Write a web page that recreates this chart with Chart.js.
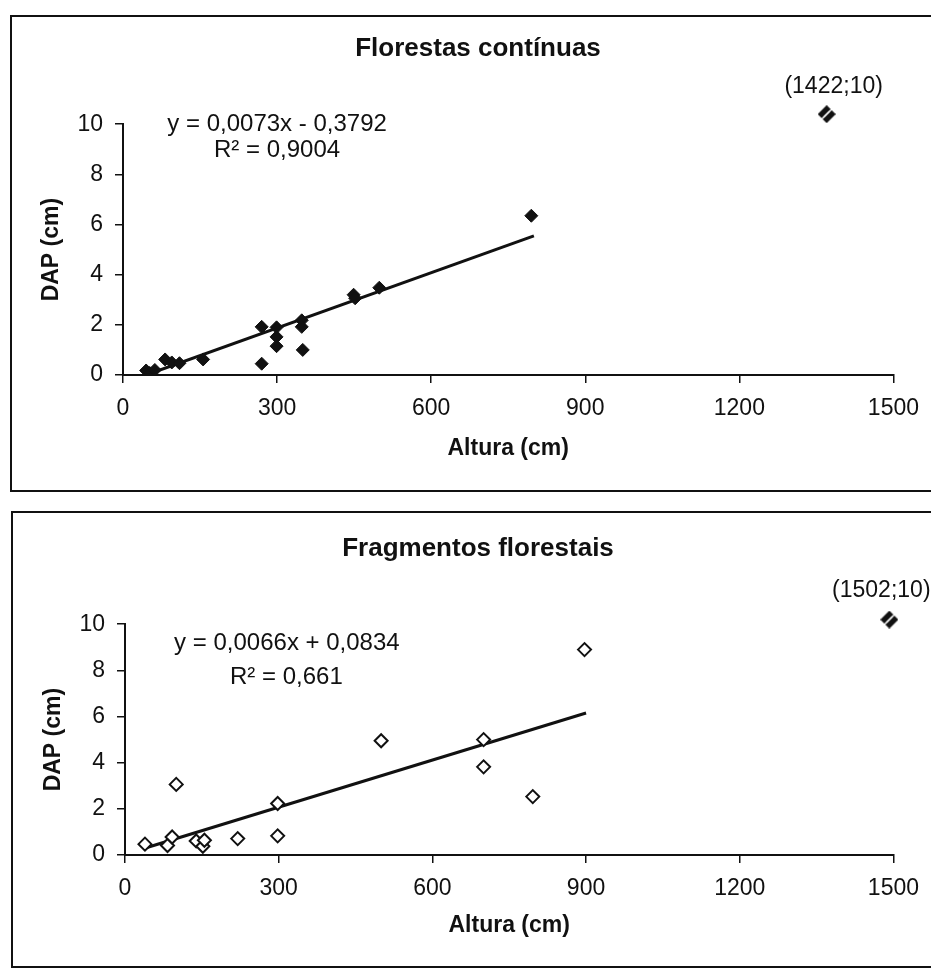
<!DOCTYPE html>
<html>
<head>
<meta charset="utf-8">
<script src="https://cdn.jsdelivr.net/npm/chart.js@4.4.1/dist/chart.umd.min.js"></script>
<style>
  html, body { margin: 0; padding: 0; background: #fff; overflow: hidden; }
  body { width: 931px; height: 970px; position: relative; }
  .frame { position: absolute; border: 2px solid #111; box-sizing: border-box; }
  .ct-box { position: absolute; left: 0; width: 931px; }
  .ct-box canvas { display: block; }
</style>
</head>
<body>
<div class="frame" style="left:10px;top:15px;width:940px;height:477px"></div>
<div class="frame" style="left:11px;top:511px;width:940px;height:457px"></div>
<div class="ct-box" style="top:0;height:495px"><canvas id="ct-chart" width="931" height="495"></canvas></div>
<div class="ct-box" style="top:500px;height:470px"><canvas id="ct-chart2" width="931" height="470"></canvas></div>

<script>
// Florestas contínuas
var contAltura = [45, 52, 62, 82, 95, 110, 156, 270, 270, 299, 299, 299, 348, 348, 350, 449, 452, 499, 795],
  contDap = [0.18, 0.08, 0.2, 0.62, 0.5, 0.47, 0.62, 1.92, 0.45, 1.9, 1.52, 1.15, 2.18, 1.92, 1.0, 3.2, 3.06, 3.48, 6.35],
  contTrendAltura = [45, 800],
  contTrendDap = [0.0, 5.55],
  contOutlierAltura = [1370],
  contOutlierDap = [10.4],
  contOutlierText = "(1422;10)",
  contEquation = ["y = 0,0073x - 0,3792", "R\u00b2 = 0,9004"];

// Fragmentos florestais
var fragAltura = [39, 83, 92, 100, 139, 152, 155, 220, 298, 298, 500, 700, 700, 796, 897],
  fragDap = [0.47, 0.41, 0.78, 3.06, 0.61, 0.38, 0.64, 0.71, 2.23, 0.83, 4.95, 5.0, 3.82, 2.53, 8.9],
  fragTrendAltura = [35, 900],
  fragTrendDap = [0.27, 6.15],
  fragOutlierAltura = [1492],
  fragOutlierDap = [10.2],
  fragOutlierText = "(1502;10)",
  fragEquation = ["y = 0,0066x + 0,0834", "R\u00b2 = 0,661"];

var xTicks = [0, 300, 600, 900, 1200, 1500],
  yTicks = [0, 2, 4, 6, 8, 10];

var ink = "#111",
  family = "'Liberation Sans', Arial, Helvetica, sans-serif";

toPoints = (xs, ys) => xs.map((x, i) => ({ x: x, y: ys[i] }));

hatchedDiamond = (size) => {
  let c = document.createElement("canvas"),
    g,
    h = size / 2;
  c.width = c.height = size;
  g = c.getContext("2d");
  g.beginPath();
  g.moveTo(h, 0);
  g.lineTo(size, h);
  g.lineTo(h, size);
  g.lineTo(0, h);
  g.closePath();
  g.fillStyle = ink;
  g.fill();
  g.strokeStyle = "#fff";
  g.lineWidth = 1.4;
  for (let k = -1; k <= 1; k++) {
    g.beginPath();
    g.moveTo(h - 3 + k * 3, h + 3 - k * 3);
    g.lineTo(h + 3 + k * 3, h - 3 - k * 3);
    g.stroke();
  }
  return c;
};

var ctLabels = {
  id: "ctLabels",
  afterDatasetsDraw: function (chart, _args, opts) {
    let ctx = chart.ctx,
      xs = chart.scales.x,
      ys = chart.scales.y;
    ctx.save();
    ctx.fillStyle = ink;
    ctx.textAlign = "center";
    ctx.textBaseline = "middle";
    ctx.font = "24px " + family;
    opts.lines.forEach(function (text, i) {
      let at = opts.linePos[i];
      ctx.fillText(text, xs.getPixelForValue(at[0]), ys.getPixelForValue(at[1]));
    });
    let pt = chart.getDatasetMeta(2).data[0];
    ctx.font = "23px " + family;
    ctx.fillText(opts.outlierText, pt.x + opts.outlierShift[0], pt.y + opts.outlierShift[1]);
    ctx.restore();
  },
};

buildChart = (id, cfg) => {
  let tickFont = { family: family, size: 23 },
    axisTitleFont = { family: family, size: 23, weight: "bold" },
    plainNumber = (v) => String(v);

  return new Chart(document.getElementById(id), {
    type: "scatter",
    data: {
      datasets: [
        {
          data: toPoints(cfg.altura, cfg.dap),
          pointStyle: "rectRot",
          pointRadius: 6.5,
          pointBackgroundColor: cfg.filled ? ink : "#fff",
          pointBorderColor: ink,
          pointBorderWidth: cfg.filled ? 1 : 2,
        },
        {
          type: "line",
          data: toPoints(cfg.trendAltura, cfg.trendDap),
          borderColor: ink,
          borderWidth: 3,
          pointRadius: 0,
          fill: false,
        },
        {
          // radius only widens the in-area test so the off-scale point is still drawn
          data: toPoints(cfg.outAltura, cfg.outDap),
          pointStyle: hatchedDiamond(18),
          pointRadius: 24,
          clip: false,
        },
      ],
    },
    options: {
      responsive: false,
      animation: false,
      events: [],
      layout: { padding: { left: cfg.padL, right: cfg.padR, top: 0, bottom: 0 } },
      plugins: {
        legend: { display: false },
        tooltip: { enabled: false },
        title: {
          display: true,
          text: cfg.title,
          color: ink,
          font: { family: family, size: 26, weight: "bold" },
          padding: { top: 33, bottom: 60 },
        },
        ctLabels: {
          lines: cfg.lines,
          linePos: cfg.linePos,
          outlierText: cfg.outText,
          outlierShift: cfg.outShift,
        },
      },
      scales: {
        x: {
          type: "linear",
          min: 0,
          max: 1500,
          afterBuildTicks: (s) => { s.ticks = xTicks.map((v) => ({ value: v })); },
          ticks: { color: ink, font: tickFont, padding: 12, maxRotation: 0, callback: plainNumber },
          grid: { drawOnChartArea: false, drawTicks: true, tickLength: 8, color: ink, lineWidth: 1.5 },
          border: { display: true, color: ink, width: 2 },
          title: { display: true, text: "Altura (cm)", color: ink, font: axisTitleFont, padding: { top: 0, bottom: cfg.xTitlePad } },
          afterFit: (s) => { s.height = cfg.xHeight; },
        },
        y: {
          type: "linear",
          min: 0,
          max: 10,
          afterBuildTicks: (s) => { s.ticks = yTicks.map((v) => ({ value: v })); },
          ticks: { color: ink, font: tickFont, padding: 12, callback: plainNumber },
          grid: { drawOnChartArea: false, drawTicks: true, tickLength: 8, color: ink, lineWidth: 1.5 },
          border: { display: true, color: ink, width: 2 },
          title: { display: true, text: "DAP (cm)", color: ink, font: axisTitleFont, padding: { top: cfg.yTitlePad, bottom: 0 } },
          afterFit: (s) => { s.width = cfg.yWidth; },
        },
      },
    },
    plugins: [ctLabels],
  });
};

buildChart("ct-chart", {
  title: "Florestas cont\u00ednuas",
  filled: true,
  altura: contAltura,
  dap: contDap,
  trendAltura: contTrendAltura,
  trendDap: contTrendDap,
  outAltura: contOutlierAltura,
  outDap: contOutlierDap,
  outText: contOutlierText,
  outShift: [7, -28],
  lines: contEquation,
  linePos: [[300, 10.0], [300, 8.97]],
  padL: 62,
  padR: 37,
  yWidth: 61,
  yTitlePad: -23.8,
  xHeight: 120,
  xTitlePad: 33,
});

buildChart("ct-chart2", {
  title: "Fragmentos florestais",
  filled: false,
  altura: fragAltura,
  dap: fragDap,
  trendAltura: fragTrendAltura,
  trendDap: fragTrendDap,
  outAltura: fragOutlierAltura,
  outDap: fragOutlierDap,
  outText: fragOutlierText,
  outShift: [-8, -29],
  lines: fragEquation,
  linePos: [[316, 9.18], [315, 7.7]],
  padL: 59,
  padR: 34,
  yWidth: 66,
  yTitlePad: -18.8,
  xHeight: 115,
  xTitlePad: 31,
});
</script>
</body>
</html>
